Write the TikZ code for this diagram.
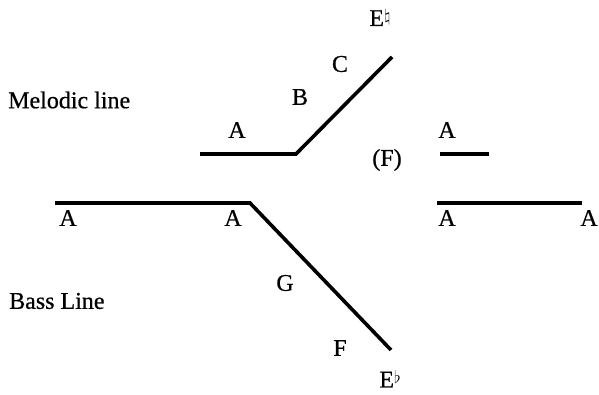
\documentclass[tikz,border=0pt]{standalone}
\usepackage{fontspec}
\setmainfont{Liberation Serif}[FakeBold=0.6]
\usetikzlibrary{calc}

\begin{document}
\begin{tikzpicture}[x=1pt,y=-1pt,every node/.style={font=\fontsize{24}{28}\selectfont,inner sep=0pt},
  voice/.style={line width=3.6pt,black}]
\useasboundingbox (0,0) rectangle (599,395);
% melodic line
\coordinate (Mstart) at (200,154);
\coordinate (Mbend) at (296,154);
\coordinate (Mtop) at (392,57);
\coordinate (Rstart) at (440,154);
\coordinate (Rend) at (489,154);
% bass line
\coordinate (Bstart) at (55,203);
\coordinate (Bbend) at (250,203);
\coordinate (Bbottom) at (391,350);
\coordinate (Sstart) at (437,203);
\coordinate (Send) at (582,203);

\draw[voice] (Mstart) -- (Mbend) -- (Mtop);
\draw[voice] (Rstart) -- (Rend);
\draw[voice] (Bstart) -- (Bbend) -- (Bbottom);
\draw[voice] (Sstart) -- (Send);

\node[anchor=west] (melodic) at (8,100) {Melodic line};
\node[anchor=west] (bass) at (9,301) {Bass Line};

\node (mA) at (237,130) {A};
\node (mB) at (300,97) {B};
\node (mC) at (340,64) {C};
\node (mE) at (380,18) {E\raisebox{4pt}{\fontsize{18}{18}\selectfont$\natural$}};
\node (rA) at (447,130) {A};
\node (rF) at (387,160) {(F)};

\node (bA1) at (68,218) {A};
\node (bA2) at (233,218) {A};
\node (bA3) at (447,218) {A};
\node (bA4) at (589,218) {A};
\node (bG) at (285,283) {G};
\node (bF) at (340,348) {F};
\node (bE) at (390,379) {E\raisebox{4pt}{\fontsize{18}{18}\selectfont$\flat$}};
\end{tikzpicture}
\end{document}
